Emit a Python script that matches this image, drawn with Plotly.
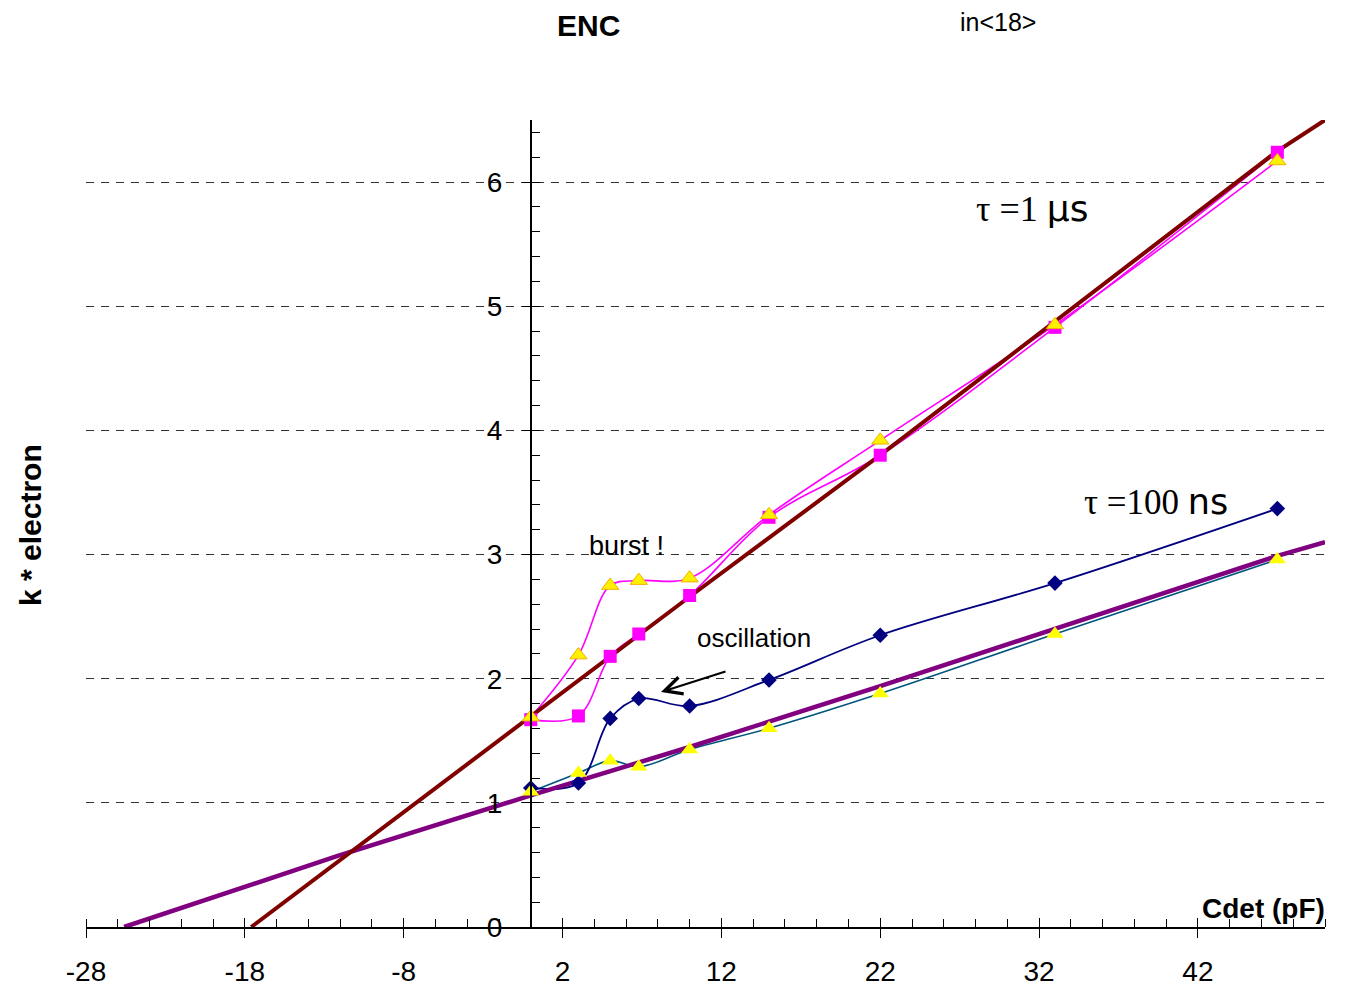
import plotly.graph_objects as go

# Detector capacitance (pF)
cdet = [0, 3, 5, 6.8, 10, 15, 22, 33, 47]

# tau = 1 us : measured ENC (k electrons), two channels
enc_1us_sq = [1.67, 1.70, 2.18, 2.36, 2.67, 3.30, 3.80, 4.83, 6.24]
enc_1us_tri = [1.69, 2.19, 2.75, 2.79, 2.81, 3.32, 3.92, 4.85, 6.17]

# tau = 100 ns : measured ENC (k electrons), two channels
enc_100ns_dia = [1.12, 1.16, 1.68, 1.84, 1.78, 1.99, 2.35, 2.77, 3.37]
enc_100ns_tri = [1.09, 1.24, 1.34, 1.29, 1.43, 1.60, 1.88, 2.36, 2.96]

# Linear trend lines
fit_1us_x = [-17.6, 0, 10, 22, 33, 47, 50]
fit_1us_y = [0.0, 1.69, 2.66, 3.80, 4.88, 6.25, 6.5]
fit_100ns_x = [-25.6, -12.2, 0, 10, 22, 33, 47, 50]
fit_100ns_y = [0.0, 0.57, 1.06, 1.45, 1.94, 2.40, 2.99, 3.10]

# Axis ticks
x_tickvals = [-28, -18, -8, 2, 12, 22, 32, 42]
x_ticktext = ["-28", "-18", "-8", "2", "12", "22", "32", "42"]
y_tickvals = [0, 1, 2, 3, 4, 5, 6]
y_ticktext = ["0", "1", "2", "3", "4", "5", "6"]

X_RANGE = [-28, 50]
Y_RANGE = [0, 6.5]

W, H = 1345, 995
ML, MR, MT, MB = 86, 20, 120, 68
PW, PH = W - ML - MR, H - MT - MB


def paper(px, py):
    """Pixel position on the page -> paper coordinates."""
    return (px - ML) / PW, (H - MB - py) / PH


FONT = "Liberation Sans, Arial, Helvetica, sans-serif"
SERIF = "Liberation Serif, Times New Roman, serif"

fig = go.Figure()

# connecting curves (drawn beneath the markers)
for ys, col, w in [
    (enc_1us_tri, "#FF00FF", 1.6),
    (enc_1us_sq, "#FF00FF", 1.6),
    (enc_100ns_tri, "#00557F", 1.6),
    (enc_100ns_dia, "#000080", 1.8),
]:
    fig.add_trace(go.Scatter(x=cdet, y=ys, mode="lines",
                             line=dict(color=col, width=w, shape="spline", smoothing=1.0),
                             hoverinfo="skip", showlegend=False))

# trend lines
fig.add_trace(go.Scatter(x=fit_100ns_x, y=fit_100ns_y, mode="lines",
                         line=dict(color="#800080", width=4.5), showlegend=False))
fig.add_trace(go.Scatter(x=fit_1us_x, y=fit_1us_y, mode="lines",
                         line=dict(color="#800000", width=4), showlegend=False))

# markers
fig.add_trace(go.Scatter(x=cdet, y=enc_1us_sq, mode="markers",
                         marker=dict(symbol="square", size=13, color="#FF00FF",
                                     line=dict(width=0)), showlegend=False))
fig.add_trace(go.Scatter(x=cdet, y=enc_1us_tri, mode="markers",
                         marker=dict(symbol="triangle-up", size=15, color="#FFF000",
                                     line=dict(width=1, color="#F2B000")), showlegend=False))
fig.add_trace(go.Scatter(x=cdet, y=enc_100ns_dia, mode="markers",
                         marker=dict(symbol="diamond", size=12, color="#000080",
                                     line=dict(width=0)), showlegend=False))
fig.add_trace(go.Scatter(x=cdet, y=enc_100ns_tri, mode="markers",
                         marker=dict(symbol="triangle-up", size=15, color="#FFFF00",
                                     line=dict(width=0)), showlegend=False))

annotations = []


def label(text, px, py, size, family=FONT, bold=False, angle=0):
    x, y = paper(px, py)
    if bold:
        text = "<b>" + text + "</b>"
    annotations.append(dict(text=text, x=x, y=y, xref="paper", yref="paper",
                            xanchor="center", yanchor="middle", showarrow=False,
                            textangle=angle,
                            font=dict(family=family, size=size, color="black")))


label("ENC", 588, 25, 30, bold=True)
label("in&lt;18&gt;", 998, 22, 25)
label("k * electron", 30, 525, 30, bold=True, angle=-90)
label("Cdet (pF)", 1263, 908, 28, bold=True)
label("burst !", 626, 546, 27)
label("τ =1 <span style='font-family:DejaVu Sans'>µs</span>", 1032, 208, 36, family=SERIF)
label("τ =100 <span style='font-family:DejaVu Sans'>ns</span>", 1156, 502, 35, family=SERIF)

# oscillation note with arrow
tx, ty = paper(661, 692)
annotations.append(dict(text="", x=tx, y=ty, xref="paper", yref="paper",
                        showarrow=True, ax=66, ay=-21, arrowhead=5, arrowsize=1.7,
                        arrowwidth=2, arrowcolor="black"))
label("oscillation", 754, 638, 26)

fig.update_layout(
    width=W, height=H,
    margin=dict(l=ML, r=MR, t=MT, b=MB, pad=0, autoexpand=False),
    paper_bgcolor="white", plot_bgcolor="white",
    font=dict(family=FONT, size=28, color="black"),
    annotations=annotations,
    xaxis=dict(range=X_RANGE, tickvals=x_tickvals, ticktext=x_ticktext,
               ticks="outside", ticklen=9, tickwidth=1.2, tickcolor="black",
               minor=dict(ticks="inside", ticklen=8, dtick=2, tick0=-28,
                          tickwidth=1.2, tickcolor="black"),
               showline=True, linecolor="black", linewidth=1.5,
               showgrid=False, zeroline=False, ticklabelstandoff=10,
               automargin=False, tickfont=dict(size=28)),
    xaxis2=dict(range=X_RANGE, overlaying="x", anchor="y", tickvals=x_tickvals,
                ticks="inside", ticklen=9, tickwidth=1.2, tickcolor="black",
                showticklabels=False, showgrid=False, zeroline=False, showline=False,
                automargin=False),
    yaxis=dict(range=Y_RANGE, anchor="free", position=(0 - X_RANGE[0]) / (X_RANGE[1] - X_RANGE[0]),
               tickvals=y_tickvals, ticktext=y_ticktext,
               ticks="outside", ticklen=8, tickwidth=1.2, tickcolor="black",
               minor=dict(ticks="inside", ticklen=8, dtick=0.2, tickwidth=1.2,
                          tickcolor="black"),
               showline=True, linecolor="black", linewidth=1.5,
               showgrid=True, gridcolor="#333333", gridwidth=1, griddash="8px,7px",
               zeroline=False, ticklabelstandoff=14, automargin=False,
               tickfont=dict(size=28)),
)

# invisible point that activates the overlaid tick axis
fig.add_trace(go.Scatter(x=[X_RANGE[0]], y=[Y_RANGE[0]], xaxis="x2", mode="markers",
                         marker=dict(opacity=0), hoverinfo="skip", showlegend=False))

fig.write_html("out.html")
